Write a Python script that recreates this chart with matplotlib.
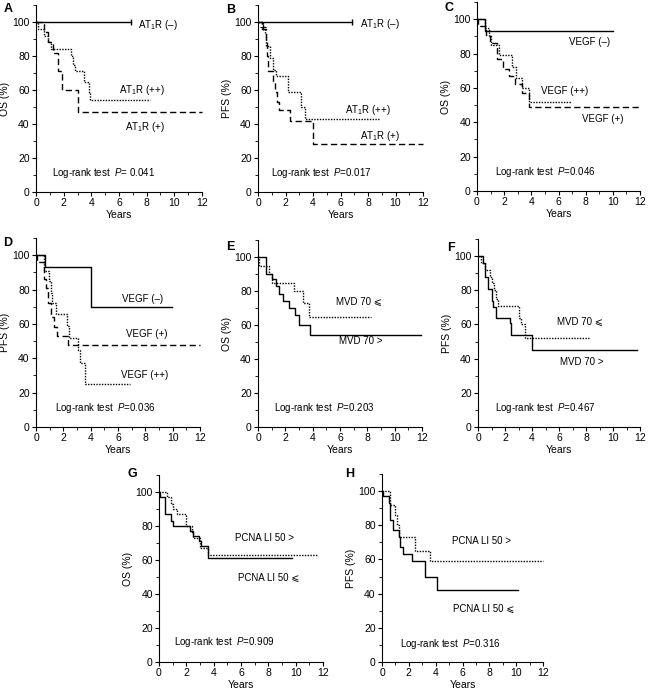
import matplotlib
matplotlib.use('Agg')
import matplotlib.pyplot as plt
from matplotlib.ticker import MultipleLocator

plt.rcParams['font.family'] = ['Liberation Sans', 'DejaVu Sans']
plt.rcParams['mathtext.fontset'] = 'custom'
plt.rcParams['mathtext.rm'] = 'Liberation Sans'
plt.rcParams['mathtext.it'] = 'Liberation Sans:italic'

# Kaplan-Meier curves: times (years) and survival (%), last point = end of follow-up
# A: OS by AT1R
a_neg_t = [0, 6.9]
a_neg_s = [100, 100]
a_pos_t = [0, 0.55, 0.9, 1.25, 1.6, 1.85, 3.05, 12.0]
a_pos_s = [100, 94, 88, 82, 71, 60, 47, 47]
a_pp_t = [0, 0.15, 0.6, 0.85, 1.1, 2.55, 2.7, 2.85, 3.45, 3.8, 3.9, 8.25]
a_pp_s = [100, 96, 92, 88, 84, 80, 75, 71, 65, 59, 54, 54]

# B: PFS by AT1R
b_neg_t = [0, 6.85]
b_neg_s = [100, 100]
b_pos_t = [0, 0.3, 0.55, 0.65, 0.75, 1.1, 1.2, 1.4, 1.5, 2.3, 4.0, 12.0]
b_pos_s = [100, 96, 88, 80, 71, 65, 59, 53, 48, 42, 28, 28]
b_pp_t = [0, 0.36, 0.5, 0.6, 0.9, 1.1, 1.3, 2.2, 3.1, 3.45, 8.8]
b_pp_s = [100, 97, 93, 86, 79, 72, 68, 59, 50, 43, 43]

# C: OS by VEGF
c_neg_t = [0, 0.6, 10.0]
c_neg_s = [100, 93, 93]
c_pos_t = [0, 0.05, 0.65, 0.95, 1.5, 1.9, 2.35, 2.8, 3.3, 3.8, 12.0]
c_pos_s = [100, 96, 91, 86, 77, 71, 67, 62, 57, 49, 49]
c_pp_t = [0, 0.6, 0.85, 1.0, 1.6, 2.55, 2.9, 3.3, 3.8, 6.9]
c_pp_s = [100, 95, 90, 85, 79, 72, 66, 60, 52, 52]

# D: PFS by VEGF
d_neg_t = [0, 0.65, 4.05, 9.95]
d_neg_s = [100, 93, 70, 70]
d_pos_t = [0, 0.05, 0.6, 0.75, 0.9, 1.1, 1.35, 1.55, 2.35, 12.0]
d_pos_s = [100, 96, 86, 81, 72, 64, 58, 53, 48, 48]
d_pp_t = [0, 0.55, 0.95, 1.1, 1.2, 1.45, 2.3, 2.45, 3.1, 3.2, 3.55, 6.9]
d_pp_s = [100, 91, 85, 78, 72, 66, 59, 52, 45, 37, 25, 25]

# E: OS by MVD
e_gt_t = [0, 0.6, 1.0, 1.3, 1.5, 1.8, 2.3, 2.7, 3.0, 3.8, 11.9]
e_gt_s = [100, 90, 87, 83, 78, 74, 70, 66, 60, 54, 54]
e_le_t = [0, 0.1, 0.8, 1.0, 2.6, 3.3, 3.7, 8.3]
e_le_s = [100, 95, 90, 85, 80, 73, 65, 65]

# F: PFS by MVD
f_gt_t = [0, 0.37, 0.5, 0.75, 1.0, 1.1, 1.3, 2.35, 2.45, 4.0, 11.75]
f_gt_s = [100, 96, 88, 81, 74, 70, 64, 61, 54, 45, 45]
f_le_t = [0, 0.2, 0.5, 0.9, 1.05, 1.15, 1.3, 1.5, 3.0, 3.15, 3.45, 8.25]
f_le_s = [100, 96, 92, 88, 84, 80, 75, 71, 64, 60, 52, 52]

# G: OS by PCNA LI
g_le_t = [0, 0.07, 0.45, 0.85, 1.05, 2.3, 2.5, 2.9, 3.1, 3.6, 9.7]
g_le_s = [100, 97, 87, 83, 80, 77, 74, 71, 68, 61, 61]
g_gt_t = [0, 0.55, 0.9, 1.05, 1.3, 2.0, 2.4, 2.5, 3.0, 3.6, 11.55]
g_gt_s = [100, 97, 93, 90, 87, 80, 76, 73, 67, 63, 63]

# H: PFS by PCNA LI
h_le_t = [0, 0.07, 0.5, 0.62, 0.82, 1.24, 1.36, 1.6, 2.2, 3.2, 4.13, 10.15]
h_le_s = [100, 97, 93, 83, 77, 73, 67, 63, 59, 50, 42, 42]
h_gt_t = [0, 0.6, 0.95, 1.1, 1.3, 2.45, 3.6, 12.0]
h_gt_s = [100, 92, 86, 80, 73, 65, 59, 59]

p_values = ['P= 0.041', 'P=0.017', 'P=0.046', 'P=0.036', 'P=0.203', 'P=0.467', 'P=0.909', 'P=0.316']

SOLID = '-'
DASHED = (0, (4.5, 2.5))
DOTTED = (0, (1, 1))

fig = plt.figure(figsize=(6.5, 6.92), dpi=100)
W, H = 650.0, 692.0


def km(ax, t, s, ls, endtick=False):
    ax.step(t, s, where='post', color='black', lw=1.0, ls=ls, clip_on=False)
    if endtick:
        ax.plot([t[-1]], [s[-1]], marker='|', ms=5, mew=1.0, color='black', clip_on=False)


def setup(ax, letter, lx, ly, ylab, pval, px, py):
    ax.set_xlim(0, 12)
    ax.set_ylim(0, 110)
    for sp in ['top', 'right']:
        ax.spines[sp].set_visible(False)
    for sp in ['left', 'bottom']:
        ax.spines[sp].set_linewidth(0.8)
    ax.xaxis.set_major_locator(MultipleLocator(2))
    ax.xaxis.set_minor_locator(MultipleLocator(1))
    ax.set_yticks([0, 20, 40, 60, 80, 100])
    ax.yaxis.set_minor_locator(MultipleLocator(10))
    ax.tick_params(which='major', direction='out', length=3, width=0.8, labelsize=7.5, pad=1.5)
    ax.tick_params(which='minor', direction='out', length=2, width=0.6)
    ax.set_xlabel('Years', fontsize=7.5, labelpad=1)
    ax.set_ylabel(ylab, fontsize=7.5, labelpad=2)
    fig.text(lx / W, 1 - ly / H, letter, fontsize=9, fontweight='bold', ha='center', va='center')
    ax.text(px, py, 'Log-rank test  $P$' + pval[1:], fontsize=7, va='center')


def add_axes(x0, x1, y_top, y_bot):
    return fig.add_axes([x0 / W, 1 - y_bot / H, (x1 - x0) / W, (y_bot - y_top) / H])


axA = add_axes(36, 202, 5, 192)
axB = add_axes(258, 423, 5, 192)
axC = add_axes(477, 640, 2, 191)
axD = add_axes(36, 200, 238, 427)
axE = add_axes(258, 422, 240, 427)
axF = add_axes(478, 640, 239, 427)
axG = add_axes(159, 323, 475, 662)
axH = add_axes(382, 543, 474, 662)

lab = dict(fontsize=7, va='center')

# A
km(axA, a_neg_t, a_neg_s, SOLID, endtick=True)
km(axA, a_pos_t, a_pos_s, DASHED)
km(axA, a_pp_t, a_pp_s, DOTTED)
setup(axA, 'A', 8, 9, 'OS (%)', p_values[0], 1.13, 11)
axA.text(7.4, 98, 'AT$_1$R (–)', **lab)
axA.text(5.97, 60, 'AT$_1$R (++)', **lab)
axA.text(6.4, 38.5, 'AT$_1$R (+)', **lab)

# B
km(axB, b_neg_t, b_neg_s, SOLID, endtick=True)
km(axB, b_pos_t, b_pos_s, DASHED)
km(axB, b_pp_t, b_pp_s, DOTTED)
axB.plot([0.36], [97], marker='+', ms=4, mew=0.8, color='black')
setup(axB, 'B', 231, 10, 'PFS (%)', p_values[1], 0.97, 11)
axB.text(7.4, 99, 'AT$_1$R (–)', **lab)
axB.text(6.3, 48.5, 'AT$_1$R (++)', **lab)
axB.text(7.4, 32.7, 'AT$_1$R (+)', **lab)

# C
km(axC, c_neg_t, c_neg_s, SOLID)
km(axC, c_pos_t, c_pos_s, DASHED)
km(axC, c_pp_t, c_pp_s, DOTTED)
setup(axC, 'C', 449, 8, 'OS (%)', p_values[2], 1.35, 11.3)
axC.text(6.74, 86.5, 'VEGF (–)', **lab)
axC.text(4.73, 58, 'VEGF (++)', **lab)
axC.text(7.72, 42, 'VEGF (+)', **lab)

# D
km(axD, d_neg_t, d_neg_s, SOLID)
km(axD, d_pos_t, d_pos_s, DASHED)
km(axD, d_pp_t, d_pp_s, DOTTED)
setup(axD, 'D', 8, 243, 'PFS (%)', p_values[3], 1.39, 10.8)
axD.text(6.27, 74.4, 'VEGF (–)', **lab)
axD.text(6.6, 54, 'VEGF (+)', **lab)
axD.text(6.2, 30, 'VEGF (++)', **lab)

# E
km(axE, e_gt_t, e_gt_s, SOLID)
km(axE, e_le_t, e_le_s, DOTTED)
setup(axE, 'E', 230, 247, 'OS (%)', p_values[4], 1.18, 11.2)
axE.text(5.69, 73.4, 'MVD 70 ⩽', **lab)
axE.text(5.93, 50.6, 'MVD 70 >', **lab)

# F
km(axF, f_gt_t, f_gt_s, SOLID)
km(axF, f_le_t, f_le_s, DOTTED)
setup(axF, 'F', 451, 248, 'PFS (%)', p_values[5], 1.24, 11.1)
axF.text(5.87, 61.6, 'MVD 70 ⩽', **lab)
axF.text(6.05, 38.2, 'MVD 70 >', **lab)

# G
km(axG, g_le_t, g_le_s, SOLID)
km(axG, g_gt_t, g_gt_s, DOTTED)
setup(axG, 'G', 132, 474, 'OS (%)', p_values[6], 1.12, 11.6)
axG.text(5.57, 72.9, 'PCNA LI 50 >', **lab)
axG.text(5.75, 49.8, 'PCNA LI 50 ⩽', **lab)

# H
km(axH, h_le_t, h_le_s, SOLID)
km(axH, h_gt_t, h_gt_s, DOTTED)
setup(axH, 'H', 350, 474, 'PFS (%)', p_values[7], 1.31, 10.7)
axH.text(5.2, 70.7, 'PCNA LI 50 >', **lab)
axH.text(5.32, 30.9, 'PCNA LI 50 ⩽', **lab)

fig.savefig('out.png', dpi=100)
